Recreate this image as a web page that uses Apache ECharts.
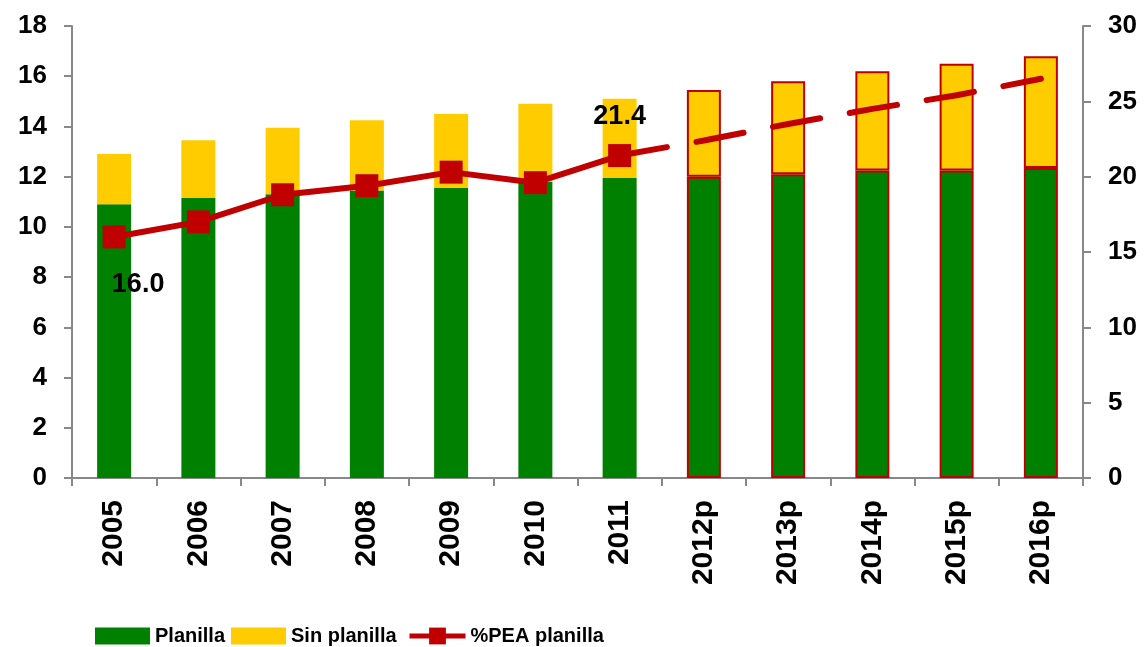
<!DOCTYPE html>
<html>
<head>
<meta charset="utf-8">
<script src="https://cdn.jsdelivr.net/npm/echarts@6/dist/echarts.min.js"></script>
<style>
  html, body { margin: 0; padding: 0; background: #ffffff; }
  #chart { width: 1146px; height: 647px; }
</style>
</head>
<body>
<div id="chart"></div>
<script>
// datos
const years = ['2005', '2006', '2007', '2008', '2009', '2010', '2011', '2012p', '2013p', '2014p', '2015p', '2016p']
const planilla = [10.9, 11.15, 11.3, 11.45, 11.55, 11.8, 11.95, 12.0, 12.1, 12.25, 12.25, 12.35]
const sinPlanilla = [2.0, 2.3, 2.65, 2.8, 2.95, 3.1, 3.15, 3.45, 3.7, 3.95, 4.25, 4.45]
const peaReal = [16.0, 17.0, 18.8, 19.4, 20.3, 19.6, 21.4, null, null, null, null, null]
const peaProj = [null, null, null, null, null, null, 21.4, 22.4, 23.5, 24.5, 25.4, 26.5]
const leftTicks = { min: 0, max: 18, interval: 2 }
const rightTicks = { min: 0, max: 30, interval: 5 }

const RED = '#c00000'
const FONT = "'Liberation Sans', Arial, sans-serif"
const firstProj = 7

const withBorder = (arr) => arr.map((v, i) => (
  i >= firstProj
    ? { value: v, itemStyle: { borderColor: RED, borderWidth: 2 } }
    : v
))

const axisLine = { show: true, lineStyle: { color: '#888888', width: 2 } }
const axisTick = { show: true, length: 8, lineStyle: { color: '#888888', width: 2 } }
const yLabel = { fontSize: 26, fontWeight: 'bold', color: '#000', margin: 25, fontFamily: FONT }
const legendText = { fontSize: 20, fontWeight: 'bold', color: '#000', fontFamily: FONT }

const chart = echarts.init(document.getElementById('chart'))

chart.setOption({
  animation: false,
  textStyle: { fontFamily: FONT },
  grid: { left: 72, right: 63, top: 26, bottom: 169 },
  legend: [
    {
      left: 90,
      top: 621,
      itemWidth: 55,
      itemHeight: 17,
      itemGap: 6,
      textStyle: legendText,
      data: [
        { name: 'Planilla', icon: 'rect' },
        { name: 'Sin planilla', icon: 'rect' },
      ],
    },
    {
      left: 402,
      top: 621,
      itemWidth: 56,
      itemHeight: 21,
      textStyle: legendText,
      lineStyle: { width: 5 },
      data: [{ name: '%PEA planilla' }],
    },
  ],
  xAxis: {
    type: 'category',
    data: years,
    axisLine,
    axisTick,
    axisLabel: {
      rotate: 90,
      margin: 22,
      fontSize: 30,
      fontWeight: 'bold',
      color: '#000',
      fontFamily: FONT,
    },
  },
  yAxis: [
    {
      type: 'value',
      ...leftTicks,
      axisLine,
      axisTick,
      splitLine: { show: false },
      axisLabel: yLabel,
    },
    {
      type: 'value',
      ...rightTicks,
      axisLine,
      axisTick,
      splitLine: { show: false },
      axisLabel: yLabel,
    },
  ],
  series: [
    {
      name: 'Planilla',
      type: 'bar',
      stack: 'pea',
      barWidth: 34,
      itemStyle: { color: '#008000' },
      data: withBorder(planilla),
    },
    {
      name: 'Sin planilla',
      type: 'bar',
      stack: 'pea',
      barWidth: 34,
      itemStyle: { color: '#ffcc00' },
      data: withBorder(sinPlanilla),
    },
    {
      name: 'Proyección',
      type: 'line',
      yAxisIndex: 1,
      showSymbol: false,
      symbol: 'none',
      lineStyle: { color: RED, width: 6, type: [48, 30], cap: 'round' },
      data: peaProj,
      z: 3,
    },
    {
      name: '%PEA planilla',
      type: 'line',
      yAxisIndex: 1,
      symbol: 'rect',
      symbolSize: 23,
      itemStyle: { color: RED },
      lineStyle: { color: RED, width: 6 },
      data: peaReal.map((v, i) => {
        if (i === 0) {
          return {
            value: v,
            label: { show: true, position: 'bottom', offset: [24, 18], formatter: (p) => p.value.toFixed(1) },
          }
        }
        if (i === 6) {
          return {
            value: v,
            label: { show: true, position: 'top', distance: 14, formatter: (p) => p.value.toFixed(1) },
          }
        }
        return v
      }),
      label: { fontSize: 27, fontWeight: 'bold', color: '#000', fontFamily: FONT },
      z: 4,
    },
  ],
})
</script>
</body>
</html>
